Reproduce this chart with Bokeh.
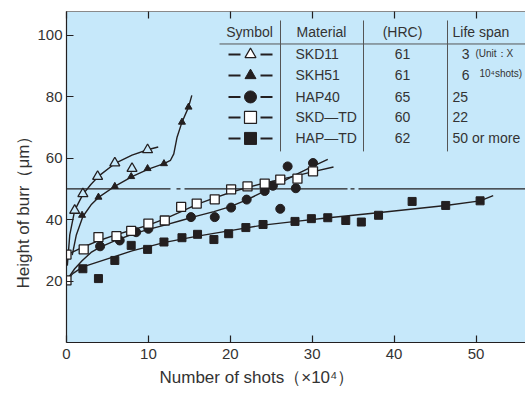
from bokeh.plotting import figure
from bokeh.models import LinearAxis, Span, Title, FixedTicker, Range1d
from bokeh.core.properties import value
from bokeh.embed import file_html
from bokeh.resources import INLINE

# ---------------- data ----------------
# SKD11 (open triangles)
skd11_x = [1.0, 2.0, 3.8, 5.9, 8.0, 9.9]
skd11_y = [43.0, 48.4, 54.0, 58.4, 56.6, 62.7]
skd11_cx = [0.1, 0.4, 1.0, 2.0, 3.0, 4.0, 6.0, 8.0, 10.0, 11.2]
skd11_cy = [25.0, 35.0, 43.0, 48.2, 51.5, 54.3, 58.4, 61.0, 62.8, 63.6]

# SKH51 (filled triangles)
skh51_x = [1.9, 3.9, 5.9, 7.9, 9.9, 11.9, 14.1, 14.9]
skh51_y = [41.4, 47.3, 50.8, 54.0, 56.6, 58.2, 71.7, 76.6]
skh51_cx = [0.7, 1.2, 2.0, 3.0, 4.0, 6.0, 8.0, 10.0, 11.9, 12.7, 13.1, 13.5, 14.1, 14.9, 15.3]
skh51_cy = [28.4, 35.0, 41.0, 44.8, 47.4, 51.0, 54.0, 56.4, 58.2, 59.3, 61.4, 66.8, 71.7, 76.6, 80.4]

# HAP40 (filled circles)
hap40_x = [4.1, 6.5, 8.5, 10.0, 15.2, 18.1, 20.1, 22.0, 24.2, 25.2, 26.1, 27.0, 28.0, 30.1]
hap40_y = [31.3, 33.2, 35.9, 37.0, 40.8, 40.8, 43.9, 46.5, 49.3, 51.0, 43.5, 57.3, 50.2, 58.4]
hap40_cx = [0.0, 1.0, 1.9, 3.0, 4.0, 6.0, 8.0, 10.0, 12.0, 14.0, 16.0, 18.0, 20.0, 22.0, 24.0, 26.0, 28.0, 30.0, 31.9]
hap40_cy = [20.2, 24.0, 26.6, 29.3, 30.9, 33.2, 35.2, 36.8, 38.2, 39.7, 41.2, 42.6, 44.2, 46.4, 49.0, 51.8, 54.6, 57.2, 59.6]

# SKD-TD (open squares)
skdtd_x = [0.0, 2.1, 3.9, 6.1, 7.9, 10.0, 12.0, 14.0, 15.9, 18.1, 20.1, 22.1, 24.2, 26.1, 28.2, 30.1]
skdtd_y = [28.6, 30.3, 34.3, 34.6, 36.3, 38.7, 39.7, 44.1, 45.2, 46.6, 49.8, 50.8, 51.7, 53.0, 53.3, 55.7]
skdtd_cx = [0.1, 2.0, 4.0, 6.0, 8.0, 10.0, 12.0, 14.0, 16.0, 18.0, 20.0, 22.0, 24.0, 26.0, 28.0, 30.0, 32.6]
skdtd_cy = [28.6, 31.0, 33.2, 35.0, 36.6, 38.2, 40.2, 42.6, 45.0, 47.0, 48.8, 50.4, 51.8, 53.0, 54.2, 55.5, 57.1]

# initial value for the HAP tools (open square at origin)
init_x = [0.0]
init_y = [20.2]

# HAP-TD (filled squares)
haptd_x = [2.0, 3.9, 5.9, 7.9, 9.9, 11.9, 14.1, 16.0, 18.0, 19.8, 21.9, 24.0, 27.9, 29.9,
           31.9, 34.1, 36.0, 38.1, 42.2, 46.3, 50.5]
haptd_y = [24.0, 20.8, 26.7, 31.6, 30.3, 32.7, 34.1, 35.2, 33.5, 35.4, 37.4, 38.4, 39.4, 40.3,
           40.6, 39.7, 39.2, 41.4, 45.9, 44.6, 46.1]
haptd_cx = [0.0, 0.8, 2.0, 5.0, 8.0, 12.0, 16.0, 20.0, 24.0, 28.0, 32.0, 38.0, 46.3, 50.5, 52.1]
haptd_cy = [20.2, 22.5, 24.6, 27.2, 29.8, 32.6, 34.6, 36.4, 38.2, 39.4, 40.6, 42.2, 44.6, 46.1, 47.8]

limit_y = 50

# legend table
materials = ["SKD11", "SKH51", "HAP40", "SKD\u2014TD", "HAP\u2014TD"]
hrc = ["61", "61", "65", "60", "62"]
life = ["3", "6", "25", "22", "50 or more"]
headers = ["Symbol", "Material", "(HRC)", "Life span"]

x_ticks = [0, 10, 20, 30, 40, 50]
y_ticks = [20, 40, 60, 80, 100]

# ---------------- styling ----------------
BG = "#c6e8fa"
INK = "#231f20"
TXT = "#333333"
FONT = "Liberation Sans"
LFS = "14px"

X0, XPX = 66.0, 8.19     # reference pixel -> data helpers (layout only)
Y0, YPX = 342.2, 3.075
def X(px):
    return (px - X0) / XPX
def Y(py):
    return (Y0 - py) / YPX

p = figure(width=525, height=399, output_backend="svg", toolbar_location=None,
           x_range=Range1d(0, X(525)), y_range=Range1d(0, Y(11)),
           x_axis_location=None, y_axis_location=None,
           min_border_left=66, min_border_right=0, min_border_top=11, min_border_bottom=57)
p.background_fill_color = BG
p.border_fill_color = "white"
p.outline_line_color = None
p.grid.visible = False

def style_axis(ax, ticks, labels=True):
    ax.ticker = FixedTicker(ticks=ticks)
    ax.major_tick_in = 7
    ax.major_tick_out = 0
    ax.minor_tick_line_color = None
    ax.major_tick_line_color = INK
    ax.axis_line_color = INK
    ax.major_tick_line_width = 1.2
    ax.axis_line_width = 1.2
    ax.major_label_text_font = FONT
    ax.major_label_text_font_size = "15px"
    ax.major_label_text_color = TXT
    ax.major_label_standoff = 6
    if not labels:
        ax.major_label_overrides = {t: "" for t in ticks}
        ax.major_label_text_font_size = "1px"
        ax.major_label_standoff = 0

xb = LinearAxis()
style_axis(xb, x_ticks)
p.add_layout(xb, "below")
xt = LinearAxis()
style_axis(xt, x_ticks, labels=False)
xt.axis_line_color = "#8a8a8a"
p.add_layout(xt, "above")
yl = LinearAxis()
style_axis(yl, y_ticks)
yl.major_label_standoff = 4
p.add_layout(yl, "left")

# axis titles
p.add_layout(Title(text="Number of shots\uff08\u00d710\u2074\uff09", align="left", offset=93,
                   text_font=FONT, text_font_size="17px", text_font_style="normal",
                   text_color=TXT, standoff=8), "below")
p.add_layout(Title(text="Height of burr\uff08\u03bcm\uff09", align="left", offset=54,
                   text_font=FONT, text_font_size="17px", text_font_style="normal",
                   text_color=TXT, standoff=4), "left")

# 50 µm reference line (chain line)
p.add_layout(Span(location=limit_y, dimension="width", line_color=INK, line_width=1.2,
                  line_dash="104 6 4 4 163 3 4 4 400 0"))

LW = 1.4
p.line(skd11_cx, skd11_cy, line_color=INK, line_width=LW)
p.line(skh51_cx, skh51_cy, line_color=INK, line_width=LW)
p.line(hap40_cx, hap40_cy, line_color=INK, line_width=LW)
p.line(skdtd_cx, skdtd_cy, line_color=INK, line_width=LW)
p.line(haptd_cx, haptd_cy, line_color=INK, line_width=LW)

p.scatter(skd11_x, skd11_y, marker="triangle", size=10, fill_color=BG, line_color=INK, line_width=1.3)
p.scatter(skh51_x, skh51_y, marker="triangle", size=7, fill_color=INK, line_color=INK)
p.scatter(hap40_x, hap40_y, marker="circle", size=9, fill_color=INK, line_color=INK)
p.scatter(haptd_x, haptd_y, marker="square", size=8, fill_color=INK, line_color=INK)
p.scatter(skdtd_x, skdtd_y, marker="square", size=9, fill_color="white", line_color=INK, line_width=1.3)
p.scatter(init_x, init_y, marker="square", size=9, fill_color="white", line_color=INK, line_width=1.3)

# ---------------- legend table ----------------
head_x = [X(249), X(321), X(402), X(452)]
head_align = ["center", "center", "center", "left"]
for h, hx, al in zip(headers, head_x, head_align):
    p.text(x=[hx], y=[Y(32)], text=[h], text_font=value(FONT), text_font_size=LFS,
           text_align=al, text_baseline="middle", text_color=TXT)

p.segment(x0=[X(219)], y0=[Y(43.5)], x1=[X(525)], y1=[Y(43.5)], line_color="#555555", line_width=1)
p.segment(x0=[X(280), X(363), X(447)], y0=[Y(20)] * 3, x1=[X(280), X(363), X(447)],
          y1=[Y(151)] * 3, line_color="#555555", line_width=1)

row_py = [54, 75, 96.5, 117, 138]
row_y = [Y(v) for v in row_py]
p.segment(x0=[X(228)] * 5, y0=row_y, x1=[X(240)] * 5, y1=row_y, line_color=INK, line_width=2)
p.segment(x0=[X(260)] * 5, y0=row_y, x1=[X(272)] * 5, y1=row_y, line_color=INK, line_width=2)
mx = X(250)
p.scatter([mx], [row_y[0]], marker="triangle", size=11, fill_color="white", line_color=INK, line_width=1.2)
p.scatter([mx], [row_y[1]], marker="triangle", size=11, fill_color=INK, line_color=INK)
p.scatter([mx], [row_y[2]], marker="circle", size=12, fill_color=INK, line_color=INK)
p.scatter([mx], [row_y[3]], marker="square", size=12, fill_color="white", line_color=INK, line_width=1.2)
p.scatter([mx], [row_y[4]], marker="square", size=12, fill_color=INK, line_color=INK)

p.text(x=[X(295)] * 5, y=row_y, text=materials, text_font=value(FONT), text_font_size=LFS,
       text_align="left", text_baseline="middle", text_color=TXT)
p.text(x=[X(402)] * 5, y=row_y, text=hrc, text_font=value(FONT), text_font_size=LFS,
       text_align="center", text_baseline="middle", text_color=TXT)
p.text(x=[X(469)] * 2, y=row_y[:2], text=life[:2], text_font=value(FONT), text_font_size=LFS,
       text_align="right", text_baseline="middle", text_color=TXT)
p.text(x=[X(452)] * 3, y=row_y[2:], text=life[2:], text_font=value(FONT), text_font_size=LFS,
       text_align="left", text_baseline="middle", text_color=TXT)
p.text(x=[X(475), X(479)], y=[Y(53), Y(73)], text=["(Unit\uff1aX", "10\u2074shots)"],
       text_font=value(FONT), text_font_size="10px", text_align="left", text_baseline="middle",
       text_color=TXT)

open("out.html", "w").write(file_html(p, INLINE))
